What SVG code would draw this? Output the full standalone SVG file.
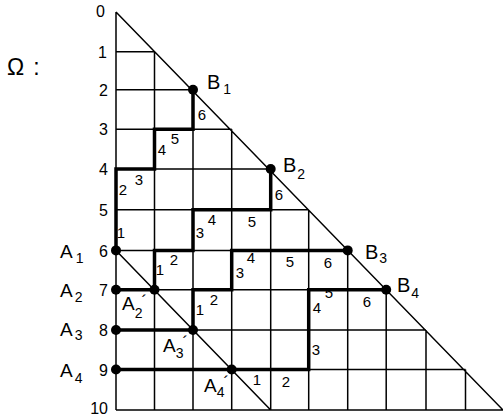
<svg xmlns="http://www.w3.org/2000/svg" width="503" height="416" viewBox="0 0 503 416">
<style>
.g{stroke:#000;stroke-width:1.5;fill:none}
.t{stroke:#000;stroke-width:3.5;fill:none;stroke-linejoin:miter;stroke-linecap:square}
.d{fill:#000}
text{font-family:"Liberation Sans",Arial,sans-serif;fill:#000}
.n{font-size:16px;text-anchor:end}
.p{font-size:15px;text-anchor:middle}
.L{font-size:19px}
.s{font-size:14px}
.pr{font-size:17px}
</style>
<rect width="503" height="416" fill="#fff"/>
<g id="connectors">
<path class="g" d="M116 12V410 M154.5 51.7V410 M193 89.7V410 M231.7 129.3V410 M270.7 169V410 M308.7 209.7V410 M347.7 250.4V410 M386.2 289.7V410 M426 330V410 M465.5 369.5V410 M116 51.7H154.5 M116 89.7H193 M116 129.3H231.7 M116 169H270.7 M116 209.7H308.7 M116 250.4H347.7 M116 289.7H386.2 M116 330H426 M116 369.5H465.5 M116 410H503 M116 12L503 410 M116 250.4L270.7 410"/>
<path id="path1" class="t" d="M193 89.7V129.3H154.5V169H116V250.4"/>
<path id="path2" class="t" d="M270.7 169V209.7H193V250.4H154.5V289.7H116"/>
<path id="path3" class="t" d="M347.7 250.4H231.7V289.7H193V330H116"/>
<path id="path4" class="t" d="M386.2 289.7H308.7V369.5H116"/>
</g>
<g id="rows">
<text class="n" x="105" y="17">0</text>
<text class="n" x="107" y="57.5">1</text>
<text class="n" x="108" y="95.5">2</text>
<text class="n" x="108" y="135">3</text>
<text class="n" x="108" y="175">4</text>
<text class="n" x="108" y="215.5">5</text>
<text class="n" x="108" y="256.5">6</text>
<text class="n" x="108" y="295.5">7</text>
<text class="n" x="108" y="336">8</text>
<text class="n" x="108" y="375.5">9</text>
<text class="n" x="108" y="414">10</text>
</g>
<g id="omega"><text x="7" y="75" style="font-size:23px">Ω<tspan dx="9">:</tspan></text></g>
<g id="labels1">
<text class="p" x="202" y="120">6</text>
<text class="p" x="162" y="155">4</text>
<text class="p" x="175" y="144">5</text>
<text class="p" x="123" y="195">2</text>
<text class="p" x="139" y="185">3</text>
<text class="p" x="121" y="238">1</text>
</g>
<g id="labels2">
<text class="p" x="279" y="200">6</text>
<text class="p" x="252" y="227">5</text>
<text class="p" x="212" y="225">4</text>
<text class="p" x="200" y="238">3</text>
<text class="p" x="174" y="265">2</text>
<text class="p" x="160" y="275">1</text>
</g>
<g id="labels3">
<text class="p" x="328" y="268">6</text>
<text class="p" x="290" y="267">5</text>
<text class="p" x="251" y="263">4</text>
<text class="p" x="240" y="278">3</text>
<text class="p" x="214" y="305">2</text>
<text class="p" x="200" y="315">1</text>
</g>
<g id="labels4">
<text class="p" x="367" y="307">6</text>
<text class="p" x="329" y="298">5</text>
<text class="p" x="317" y="313">4</text>
<text class="p" x="316" y="355">3</text>
<text class="p" x="286" y="387">2</text>
<text class="p" x="257" y="385">1</text>
</g>
<g id="B1"><circle class="d" cx="193" cy="89.7" r="5"/><text class="L" x="207" y="89" style="font-size:20px">B<tspan class="s" dx="3" dy="5">1</tspan></text></g>
<g id="B2"><circle class="d" cx="270.7" cy="169" r="5"/><text class="L" x="283" y="172" style="font-size:20px">B<tspan class="s" dx="1" dy="7">2</tspan></text></g>
<g id="B3"><circle class="d" cx="347.7" cy="250.4" r="5"/><text class="L" x="365" y="259" style="font-size:20px">B<tspan class="s" dx="1" dy="4">3</tspan></text></g>
<g id="B4"><circle class="d" cx="386.2" cy="289.7" r="5"/><text class="L" x="397" y="292" style="font-size:20px">B<tspan class="s" dx="1" dy="6">4</tspan></text></g>
<g id="A1"><circle class="d" cx="116" cy="250.4" r="5"/><text class="L" x="60" y="258">A<tspan class="s" dx="3" dy="5">1</tspan></text></g>
<g id="A2"><circle class="d" cx="116" cy="289.7" r="5"/><text class="L" x="60" y="297">A<tspan class="s" dx="2" dy="5">2</tspan></text></g>
<g id="A3"><circle class="d" cx="116" cy="330" r="5"/><text class="L" x="60" y="336">A<tspan class="s" dx="2" dy="4">3</tspan></text></g>
<g id="A4"><circle class="d" cx="116" cy="369.5" r="5"/><text class="L" x="60" y="377">A<tspan class="s" dx="2" dy="6">4</tspan></text></g>
<g id="A2p"><circle class="d" cx="154.5" cy="289.7" r="5"/><text class="L" x="122" y="310">A<tspan class="s" dy="8">2</tspan><tspan class="pr" dx="-1" dy="-11">´</tspan></text></g>
<g id="A3p"><circle class="d" cx="193" cy="330" r="5"/><text class="L" x="163" y="352">A<tspan class="s" dy="6">3</tspan><tspan class="pr" dx="-1" dy="-10">´</tspan></text></g>
<g id="A4p"><circle class="d" cx="231.7" cy="369.5" r="5"/><text class="L" x="204" y="392">A<tspan class="s" dy="5">4</tspan><tspan class="pr" dx="-1" dy="-9">´</tspan></text></g>
</svg>
